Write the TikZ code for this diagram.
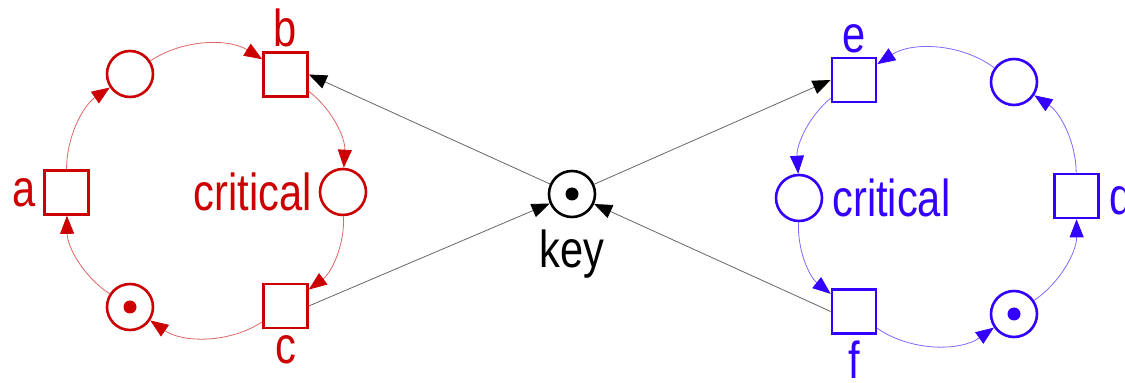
\documentclass[tikz,border=0pt]{standalone}
\usepackage{fontspec}
\setmainfont{Liberation Sans}[FakeStretch=0.8]
\usepackage{tikz}
\usetikzlibrary{petri}
\usetikzlibrary{arrows.meta}
\definecolor{netred}{RGB}{204,0,0}
\definecolor{netblue}{RGB}{51,0,255}

\begin{document}
\begin{tikzpicture}[
		x=1pt, y=1pt,
		font=\fontsize{52}{60}\selectfont,
		every place/.style={minimum size=46pt, line width=2.6pt},
		every transition/.style={minimum size=44pt, line width=2.6pt},
		every token/.style={fill=black, circle, inner sep=0pt, minimum size=13pt},
		every label/.style={inner sep=0pt},
		arc/.style={line width=0.8pt, draw=#1!60, looseness=0.9,
			-{Triangle[length=18pt, width=14pt, color=#1]}},
		link/.style={line width=0.8pt, draw=black!60,
			-{Triangle[length=18pt, width=14pt, color=black]}},
	]
	\useasboundingbox (0, 0) rectangle (1125, 383);

	% left process
	\begin{scope}[netred, every token/.append style={fill=netred}]
		\node[transition, label={[label distance=7pt]left:a}] (a) at (66.5, 190.5) {};
		\node[place] (p1) at (130, 309) {};
		\node[transition, label={[label distance=3.5pt]above:b}] (b) at (285.5, 308.5) {};
		\node[place, label={[label distance=7pt]left:critical}] (crit1) at (343, 191) {};
		\node[transition, label={[label distance=6.5pt]below:c}] (c) at (285.5, 77) {};
		\node[place, tokens=1] (p2) at (130, 76) {};

		\path[arc=netred] (a) edge[bend left=28] (p1);
		\path[arc=netred] (p1) edge[bend left=33] (b);
		\path[arc=netred] (b) edge[bend left=28] (crit1);
		\path[arc=netred] (crit1) edge[bend left=28] (c);
		\path[arc=netred] (c) edge[bend left=34] (p2);
		\path[arc=netred] (p2) edge[bend left=28] (a);
	\end{scope}

	% shared key
	\node[place, tokens=1, label={[label distance=11.5pt]below:key}] (key) at (572, 189) {};

	% right process
	\begin{scope}[netblue, every token/.append style={fill=netblue}]
		\node[transition, label={[label distance=3.5pt]above:e}] (e) at (854, 303) {};
		\node[place, label={[label distance=9pt]right:critical}] (crit2) at (799, 185) {};
		\node[transition, label={[label distance=5.5pt]below:f}] (f) at (854, 71.5) {};
		\node[place, tokens=1] (p4) at (1014, 69) {};
		\node[transition, label={[label distance=9pt]right:d}] (d) at (1076.5, 187) {};
		\node[place] (p3) at (1014, 301) {};

		\path[arc=netblue] (p3) edge[bend right=35] (e);
		\path[arc=netblue] (e) edge[bend right=27] (crit2);
		\path[arc=netblue] (crit2) edge[bend right=27] (f);
		\path[arc=netblue] (f) edge[bend right=35] (p4);
		\path[arc=netblue] (p4) edge[bend right=28] (d);
		\path[arc=netblue] (d) edge[bend right=28] (p3);
	\end{scope}

	% key taken and given back
	\draw[link] (key) -- (b.east);
	\draw[link] (c.east) -- (key);
	\draw[link] (key) -- (e.west);
	\draw[link] (f.west) -- (key);
\end{tikzpicture}
\end{document}
